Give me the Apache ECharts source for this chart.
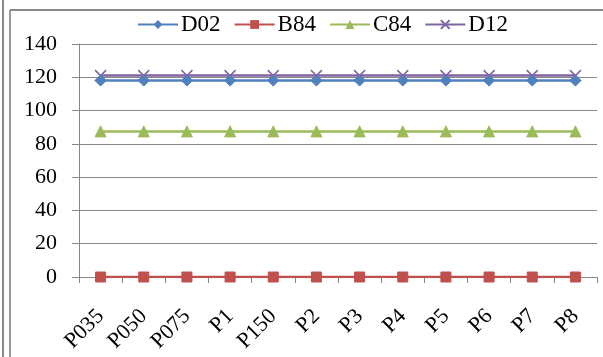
<!DOCTYPE html>
<html><head><meta charset="utf-8">
<script src="https://cdn.jsdelivr.net/npm/echarts@6/dist/echarts.min.js"></script>
<style>html,body{margin:0;padding:0;background:#fff}#c{width:603px;height:357px}</style>
</head><body><div id="c"></div>
<script>
const categories = ['P035','P050','P075','P1','P150','P2','P3','P4','P5','P6','P7','P8'];
const seriesNames = ['D02','B84','C84','D12'];
const d02 = [118,118,118,118,118,118,118,118,118,118,118,118];
const b84 = [0,0,0,0,0,0,0,0,0,0,0,0];
const c84 = [87.5,87.5,87.5,87.5,87.5,87.5,87.5,87.5,87.5,87.5,87.5,87.5];
const d12 = [121,121,121,121,121,121,121,121,121,121,121,121];
const yTicks = {min:0, max:140, interval:20};

const colors = ['#4F81BD','#C0504D','#9BBB59','#8064A2'];
const symbols = ['diamond','rect','triangle','path://M0,0 L10,10 M10,0 L0,10'];
const sizes = [11,10,11,11];
const datas = [d02,b84,c84,d12];
const font = 'Liberation Serif, Times New Roman, serif';

const chart = echarts.init(document.getElementById('c'), null, {renderer:'canvas'});
chart.setOption({
  animation:false,
  textStyle:{fontFamily:font},
  legend:{
    top:13, left:137, itemWidth:40, itemHeight:11, itemGap:13, padding:0,
    textStyle:{fontFamily:font, fontSize:23, color:'#000', padding:[0,0,0,-2]},
    data: seriesNames
  },
  grid:{left:79, right:6, top:44, bottom:80},
  xAxis:{
    type:'category', data:categories, boundaryGap:true,
    axisLine:{lineStyle:{color:'#868686', width:1}},
    axisTick:{show:true, length:6, lineStyle:{color:'#868686'}},
    axisLabel:{rotate:45, fontFamily:font, fontSize:22, color:'#000', margin:36, interval:0}
  },
  yAxis:{
    type:'value', min:yTicks.min, max:yTicks.max, interval:yTicks.interval,
    axisLine:{show:true, lineStyle:{color:'#868686'}},
    axisTick:{show:true, inside:false, length:7, lineStyle:{color:'#868686'}},
    splitLine:{lineStyle:{color:'#868686', width:1}},
    axisLabel:{fontFamily:font, fontSize:22, color:'#000', margin:22}
  },
  series: seriesNames.map((n,i)=>({
    name:n, type:'line', data:datas[i],
    symbol:symbols[i], symbolSize:sizes[i],
    lineStyle:{color:colors[i], width:2.5},
    itemStyle: i===3 ? {color:'rgba(0,0,0,0)', borderColor:colors[i], borderWidth:1.5} : {color:colors[i], borderColor:colors[i]},
    z: 10-i
  })),
  graphic:[
    {type:'line', shape:{x1:3, y1:0, x2:3, y2:357}, style:{stroke:'#8a8a8a', lineWidth:2}},
    {type:'line', shape:{x1:10, y1:10, x2:10, y2:357}, style:{stroke:'#9a9a9a', lineWidth:2}},
    {type:'line', shape:{x1:10, y1:10, x2:603, y2:10}, style:{stroke:'#8a8a8a', lineWidth:2}}
  ]
});
</script></body></html>
